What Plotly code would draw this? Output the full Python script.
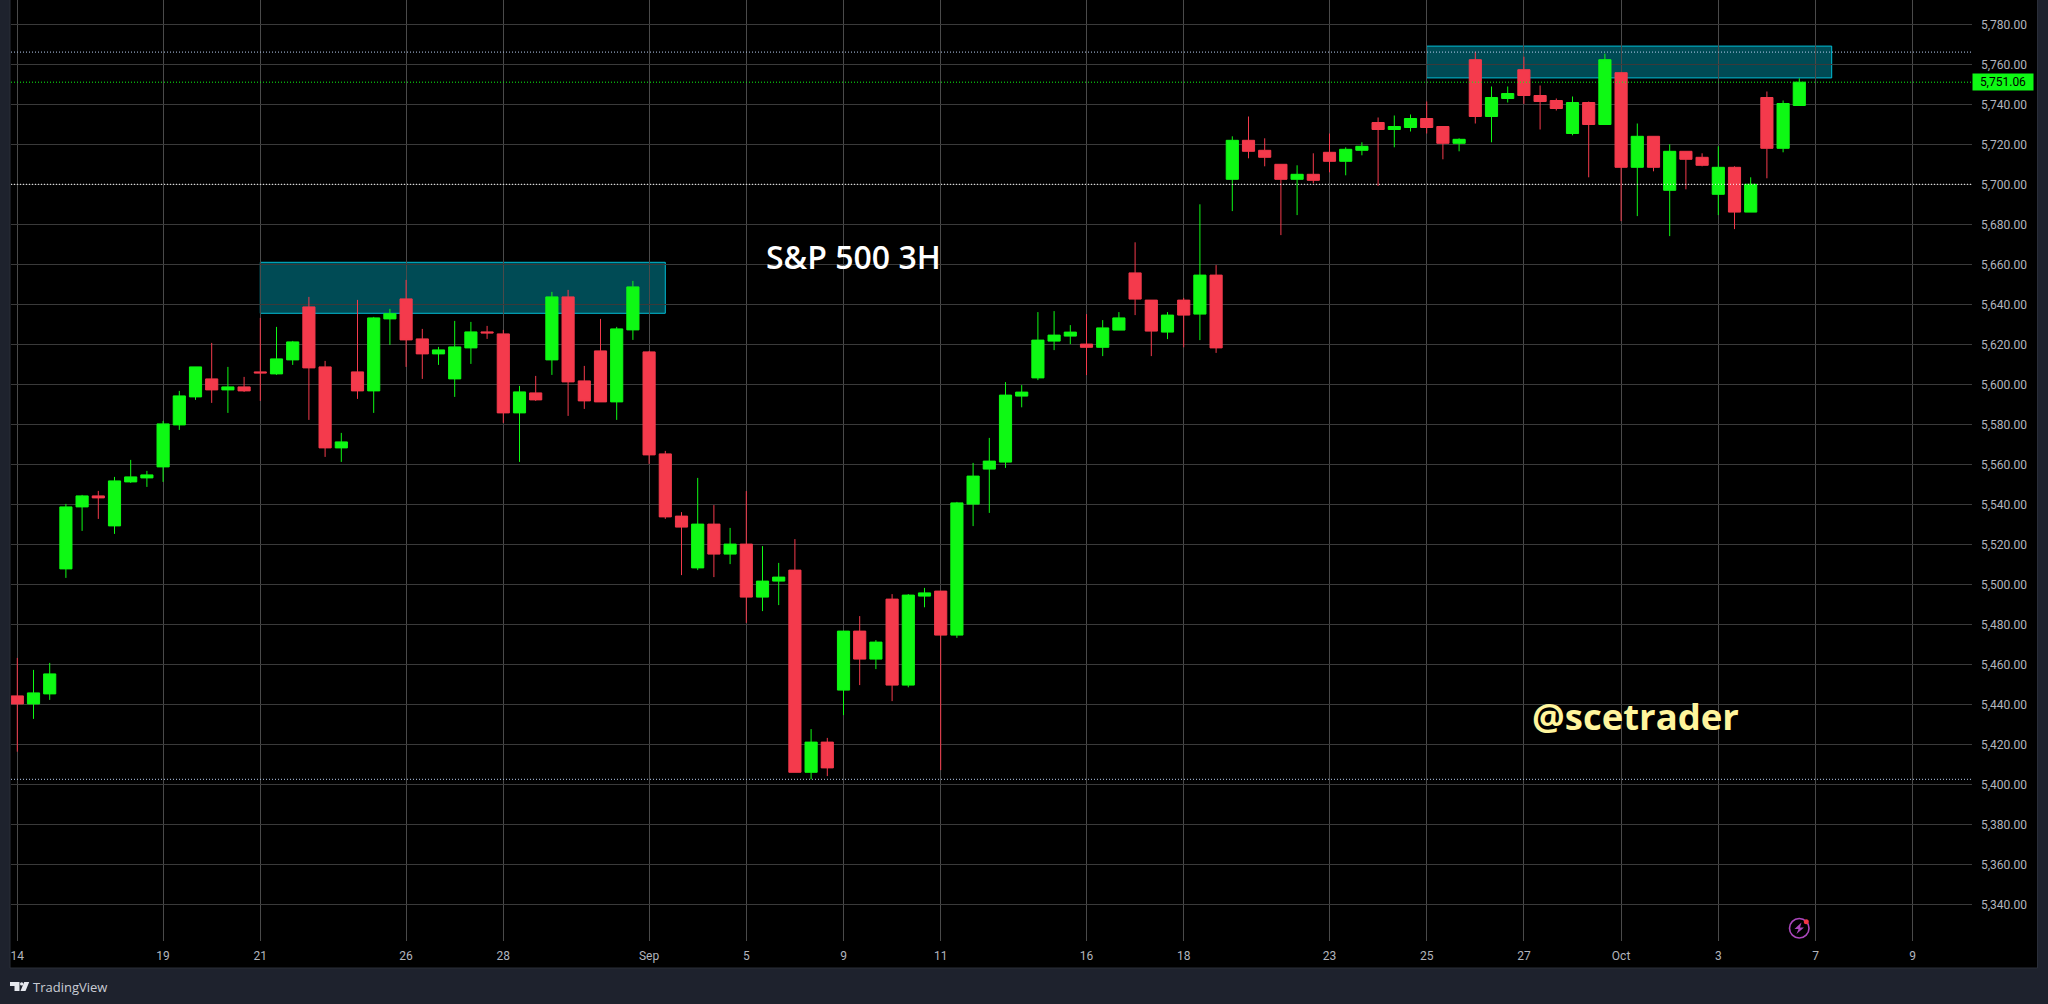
import plotly.graph_objects as go

W, H = 2048, 1004

opens = [5444.2,5440.2,5445.2,5507.7,5538.7,5544.2,5529.2,5551.2,5553.2,5558.7,
5579.7,5593.7,5602.7,5597.2,5598.7,5606.2,5605.2,5612.2,5638.7,5608.7,
5568.2,5606.2,5596.7,5632.7,5642.7,5622.7,5615.2,5602.7,5618.2,5626.2,
5625.2,5585.7,5595.7,5612.2,5643.7,5601.7,5616.7,5591.2,5627.2,5616.2,
5565.2,5534.1,5508.2,5530.1,5515.1,5520.1,5493.6,5501.6,5507.1,5406.0,
5421.1,5447.1,5476.6,5462.6,5492.6,5449.6,5494.1,5496.6,5474.6,5540.1,
5557.6,5561.1,5594.1,5603.2,5621.6,5624.1,5620.1,5618.5,5627.1,5655.7,
5642.1,5626.1,5642.1,5635.1,5654.6,5702.5,5722,5717,5710,5702.5,
5705,5716,5711.5,5717,5730.9,5727.4,5728.4,5732.9,5728.9,5720.5,
5762.3,5733.9,5742.9,5757.3,5744.4,5741.9,5725.4,5740.9,5729.9,5755.8,
5708.5,5724,5697,5716.5,5713.5,5695,5708.5,5686.1,5743.4,5718,5739.4]

closes = [5440.2,5445.7,5455.2,5538.7,5544.2,5543.2,5551.7,5553.7,5554.7,5580.2,
5594.2,5608.7,5597.2,5598.7,5596.7,5605.7,5612.7,5621.2,5608.2,5568.2,
5571.2,5596.7,5633.2,5635.3,5622.2,5615.2,5617.2,5618.7,5626.2,5625.7,
5585.7,5596.2,5592.2,5643.7,5601.2,5591.7,5591.2,5627.7,5648.7,5564.7,
5533.7,5528.6,5530.1,5515.1,5520.1,5493.6,5501.6,5503.6,5406.0,5421.1,
5408.2,5476.6,5462.6,5471.1,5449.6,5494.6,5495.7,5474.6,5540.7,5554.1,
5561.6,5594.6,5596.1,5622.1,5624.6,5626.1,5618.5,5628.2,5633.2,5642.6,
5626.6,5634.6,5634.6,5654.6,5618.2,5722,5716.5,5713.5,5702.5,5705,
5702,5711.5,5717.5,5719,5727.4,5728.9,5732.9,5728.4,5720.5,5722.5,
5733.9,5743.4,5745.4,5744.4,5741.4,5737.9,5740.9,5729.9,5762.3,5708.5,
5724,5708.5,5716.5,5712.5,5709.5,5708.5,5686.1,5700,5718,5740.4,5751.06]

highs = [5463.2,5457.2,5460.7,5540.2,5544.7,5546.7,5553.7,5562.2,5556.7,5581.7,
5596.7,5608.7,5620.7,5608.7,5603.7,5633.2,5628.7,5621.7,5643.7,5611.7,
5575.7,5642.2,5633.7,5637.7,5652.2,5627.7,5618.7,5631.7,5631.2,5629.2,
5627.2,5599.2,5604.2,5646.2,5647.2,5609.2,5632.7,5628.7,5651.7,5616.7,
5566.7,5536.1,5553.2,5539.6,5528.2,5546.6,5519.1,5510.7,5522.6,5427.6,
5423.2,5476.6,5484.1,5472.1,5495.1,5495.1,5498.2,5496.6,5541.2,5560.7,
5573.2,5601.1,5599.6,5636.1,5636.6,5629.6,5635.1,5632.1,5636.1,5671.0,
5642.1,5636.1,5643.2,5690,5659.6,5724,5733.9,5723,5710,5709.5,
5715.5,5725.4,5718.5,5721,5733.4,5734.4,5734.9,5741.4,5728.9,5723,
5766.3,5748.9,5748.9,5763.8,5749.4,5742.9,5743.9,5741.4,5765.3,5755.8,
5730.4,5724,5720,5716.5,5715.5,5719,5709,5703.5,5746.4,5741.9,5753]

lows = [5416.3,5432.7,5442.2,5503.2,5526.7,5532.7,5525.2,5550.7,5548.7,5551.2,
5577.2,5592.2,5590.7,5585.7,5596.2,5591.7,5604.7,5609.7,5582.2,5563.7,
5561.2,5592.7,5585.7,5619.7,5608.7,5602.7,5609.7,5593.7,5610.2,5622.7,
5580.7,5561.2,5591.7,5604.7,5584.2,5587.7,5591.2,5582.2,5622.2,5560.2,
5532.7,5504.6,5507.1,5503.6,5510.1,5480.7,5486.6,5489.6,5406.0,5402.5,
5404.1,5434.6,5449.6,5457.6,5441.6,5448.5,5488.5,5407.1,5473.2,5529.1,
5535.7,5558.2,5588.5,5602.1,5617.1,5620.1,5604.6,5614.1,5627.1,5634.6,
5614.1,5622.6,5618.5,5622.1,5615.7,5686.6,5713,5709,5674.6,5684.6,
5700.5,5706,5704.5,5714.5,5699.2,5718.5,5726.4,5725.4,5712.5,5716.5,
5730.4,5721,5740.9,5740.2,5727.4,5736.9,5724.5,5703.5,5729.9,5681.6,
5684.1,5706.5,5674.1,5697.5,5709,5684.6,5677.6,5686.1,5703,5716,5739.4]

tick_positions = [0,9,15,24,30,39,45,51,57,66,72,81,87,93,99,105,111,117]
tick_labels = ["14","19","21","26","28","Sep","5","9","11","16","18","23","25","27","Oct","3","7","9"]
price_ticks = list(range(5340, 5781, 20))

last_price = 5751.06
level_upper = 5766.1
level_mid = 5700.0
level_lower = 5402.5
zone_a = (15, 40, 5635.5, 5661.0)
zone_b = (87, 112, 5753.2, 5769.1)

# pixel layout of the TradingView-like frame
PL, PR, PT, PB = 11, 1972, 0, 941
SPACING, FIRST = 16.2, 17.3
x_range = [(PL - FIRST) / SPACING, (PR - FIRST) / SPACING]
y_range = [5660 - (PB - 264.3) / 2, 5660 + (264.3 - PT) / 2]

def fx(x): return x / W
def fy(y): return 1 - y / H
def path(pts):
    return "M" + " L".join(f"{fx(a):.5f},{fy(b):.5f}" for a, b in pts) + " Z"

GREEN, RED = "#0ef914", "#f43a4c"
LABEL = "#b2b5be"

fig = go.Figure(go.Candlestick(
    x=list(range(len(opens))), open=opens, high=highs, low=lows, close=closes,
    increasing=dict(line=dict(color=GREEN, width=1), fillcolor=GREEN),
    decreasing=dict(line=dict(color=RED, width=1), fillcolor=RED),
    whiskerwidth=0, showlegend=False, hoverinfo="skip",
))

shapes = [
    dict(type="rect", xref="paper", yref="paper", x0=fx(10), x1=fx(2037.5), y0=fy(968), y1=fy(-2),
         fillcolor="#000000", line=dict(color="#2a2e39", width=1), layer="below"),
]
for z in (zone_a, zone_b):
    shapes.append(dict(type="rect", xref="x", yref="y", x0=z[0], x1=z[1], y0=z[2], y1=z[3],
                       fillcolor="rgba(0,188,212,0.4)", line=dict(color="#00bcd4", width=1), layer="below"))
for lvl, col in ((level_upper, "#b8cdf0"), (level_mid, "#ffffff"), (level_lower, "#b8cdf0"), (last_price, GREEN)):
    shapes.append(dict(type="line", xref="paper", yref="y", x0=fx(PL), x1=fx(PR), y0=lvl, y1=lvl,
                       line=dict(color=col, width=1, dash="1px,2px"), layer="above"))

# TradingView logo
logo = "#e6e8ee"
shapes += [
    dict(type="path", xref="paper", yref="paper", fillcolor=logo, line=dict(width=0),
         path=path([(10, 982), (19.5, 982), (19.5, 991), (14.5, 991), (14.5, 986), (10, 986)])),
    dict(type="circle", xref="paper", yref="paper", x0=fx(20), x1=fx(23.4), y0=fy(985.6), y1=fy(982.2),
         fillcolor=logo, line=dict(width=0)),
    dict(type="path", xref="paper", yref="paper", fillcolor=logo, line=dict(width=0),
         path=path([(24.2, 982), (29.2, 982), (25.5, 991), (20.5, 991)])),
]
# lightning badge
shapes += [
    dict(type="circle", xref="paper", yref="paper", x0=fx(1789.5), x1=fx(1809), y0=fy(938), y1=fy(918.5),
         fillcolor="#000000", line=dict(color="#ab47bc", width=1.6), layer="above"),
    dict(type="path", xref="paper", yref="paper", fillcolor="#ab47bc", line=dict(width=0),
         path=path([(1801.5, 922.5), (1794.5, 929), (1798.5, 929), (1796.5, 934), (1804, 927.5), (1800, 927.5)])),
    dict(type="circle", xref="paper", yref="paper", x0=fx(1803.8), x1=fx(1808.8), y0=fy(924.2), y1=fy(919.2),
         fillcolor="#f23645", line=dict(width=0)),
]

annotations = [
    dict(text="S&P 500 3H", xref="paper", yref="paper", x=fx(853), y=fy(256.5), showarrow=False,
         xanchor="center", yanchor="middle", font=dict(family="Open Sans", size=32, color="#ffffff", weight=600)),
    dict(text="@scetrader", xref="paper", yref="paper", x=fx(1635), y=fy(716), showarrow=False,
         xanchor="center", yanchor="middle", font=dict(family="Open Sans", size=36.5, color="#fff59d", weight=700)),
    dict(text=f"{last_price:,.2f}", xref="paper", yref="y", x=fx(2003), y=last_price, showarrow=False,
         xanchor="center", yanchor="middle", width=60, height=16, borderpad=0, bgcolor=GREEN,
         font=dict(family="Roboto", size=12, color="#000000")),
    dict(text="TradingView", xref="paper", yref="paper", x=fx(33), y=fy(986.5), showarrow=False,
         xanchor="left", yanchor="middle", xshift=-2, font=dict(family="Open Sans", size=13, color="#c9ccd4")),
]

fig.update_layout(
    width=W, height=H, autosize=False,
    margin=dict(l=0, r=0, t=0, b=0, pad=0),
    paper_bgcolor="#1e222d", plot_bgcolor="rgba(0,0,0,0)",
    boxgap=0.25, boxgroupgap=0,
    shapes=shapes, annotations=annotations, showlegend=False,
    xaxis=dict(domain=[fx(PL), fx(PR)], range=x_range, type="linear", rangeslider=dict(visible=False),
               tickmode="array", tickvals=tick_positions, ticktext=tick_labels,
               showgrid=True, gridcolor="#4a4a4a", gridwidth=1, zeroline=False, showline=False,
               ticks="", ticklabelstandoff=6, automargin=False,
               tickfont=dict(family="Roboto", size=12, color=LABEL)),
    yaxis=dict(domain=[fy(PB), fy(PT)], range=y_range, side="right", tickmode="array", tickvals=price_ticks,
               ticktext=[f"{p:,.2f}" for p in price_ticks],
               showgrid=True, gridcolor="#3a3a3a", gridwidth=1, zeroline=False, showline=False,
               ticks="", ticklabelstandoff=8, automargin=False,
               tickfont=dict(family="Roboto", size=12, color=LABEL)),
)

fig.write_html("out.html", config={"displayModeBar": False},
               post_script="document.body.style.margin='0';document.body.style.background='#1e222d';")
